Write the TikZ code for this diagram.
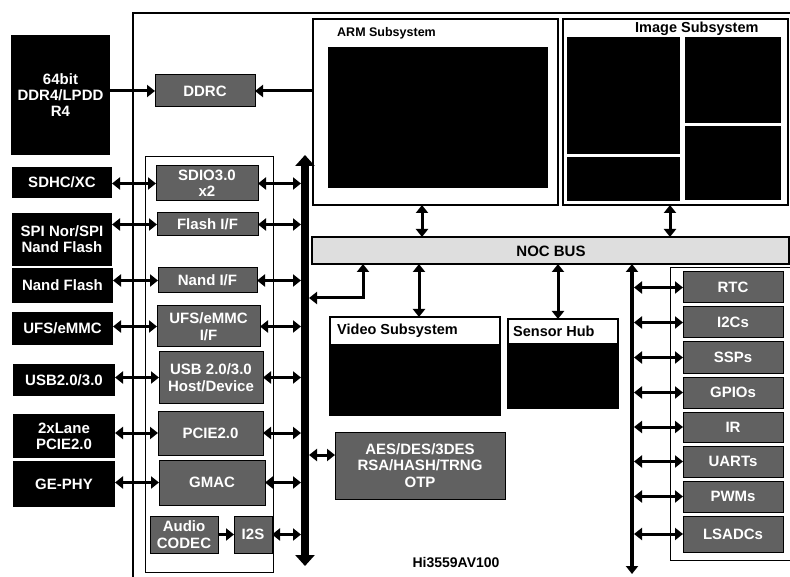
\documentclass[tikz,border=0pt]{standalone}
\usepackage{fontspec}
\setmainfont{Liberation Sans}
\usetikzlibrary{arrows.meta,calc}
\begin{document}
\begin{tikzpicture}[x=1pt,y=-1pt,
  tp/.tip={Triangle[width=12pt,length=8pt]},
  btp/.tip={Triangle[width=19pt,length=11pt]},
  rtp/.tip={Triangle[width=12pt,length=8pt]},
  blk/.style={fill=black,text=white,inner sep=0pt,outer sep=0pt,anchor=north west,align=center,font=\bfseries\fontsize{15}{16}\selectfont},
  gbx/.style={fill=black!62,draw=black,line width=1pt,text=white,inner sep=0pt,outer sep=0pt,anchor=north west,align=center,font=\bfseries\fontsize{15}{16.5}\selectfont},
  sub/.style={draw=black,line width=1.5pt,inner sep=0pt,outer sep=0pt,anchor=north west},
  ttl/.style={anchor=west,inner sep=0pt,font=\bfseries\fontsize{14.5}{16}\selectfont},
  arr/.style={line width=3pt,tp-tp},
  arrR/.style={line width=3pt,-tp},
  lbus/.style={line width=8pt,btp-btp},
  rbus/.style={line width=4pt,rtp-rtp}]
\useasboundingbox (0,0) rectangle (790,577);

% chip outline and group frames
\draw[line width=1.3pt] (133,577) -- (133,13) -- (790,13);
\draw[line width=1pt] (145,157) rectangle (273,572);
\draw[line width=1pt] (790,268) -- (670,268) -- (670,560) -- (790,560);

% external black boxes
\node[blk,minimum width=99pt,minimum height=120pt] (ddr) at (11,35) {64bit\\DDR4/LPDD\\R4};
\node[blk,minimum width=100pt,minimum height=31pt] (sdhc) at (12,167) {SDHC/XC};
\node[blk,minimum width=100pt,minimum height=53pt] (spi) at (12,213) {SPI Nor/SPI\\Nand Flash};
\node[blk,minimum width=101pt,minimum height=35pt] (nandf) at (12,268) {Nand Flash};
\node[blk,minimum width=101pt,minimum height=33pt] (ufsb) at (12,312) {UFS/eMMC};
\node[blk,minimum width=102pt,minimum height=32pt] (usbb) at (13,364) {USB2.0/3.0};
\node[blk,minimum width=102pt,minimum height=44pt] (pcieb) at (13,414) {2xLane\\PCIE2.0};
\node[blk,minimum width=102pt,minimum height=46pt] (geb) at (13,461) {GE-PHY};

% left controller boxes
\node[gbx,minimum width=100pt,minimum height=32pt] (ddrc) at (155,75) {DDRC};
\node[gbx,minimum width=102pt,minimum height=35pt] (sdio) at (156,166) {SDIO3.0\\x2};
\node[gbx,minimum width=101pt,minimum height=23pt] (flash) at (157,213) {Flash I/F};
\node[gbx,minimum width=99pt,minimum height=25pt] (nand) at (158,268) {Nand I/F};
\node[gbx,minimum width=103pt,minimum height=41pt] (ufs) at (157,306) {UFS/eMMC\\I/F};
\node[gbx,minimum width=104pt,minimum height=51pt] (usb) at (159,352) {USB 2.0/3.0\\Host/Device};
\node[gbx,minimum width=105pt,minimum height=44pt] (pcie) at (158,411) {PCIE2.0};
\node[gbx,minimum width=106pt,minimum height=45pt] (gmac) at (159,460) {GMAC};
\node[gbx,minimum width=68pt,minimum height=37pt] (audio) at (150,516) {Audio\\CODEC};
\node[gbx,minimum width=38pt,minimum height=37pt] (i2s) at (234,516) {I2S};

% ARM subsystem
\node[sub,minimum width=245pt,minimum height=186pt] (arm) at (313,19) {};
\node[ttl,font=\bfseries\fontsize{12.5}{14}\selectfont] (armt) at (337,33) {ARM Subsystem};
\fill (328,47) rectangle (548,188);

% Image subsystem
\node[sub,minimum width=225pt,minimum height=186pt] (img) at (563,19) {};
\node[ttl] (imgt) at (635,29) {Image Subsystem};
\fill (567,37) rectangle (680,154);
\fill (567,157) rectangle (680,201);
\fill (685,37) rectangle (781,123);
\fill (685,126) rectangle (781,200);

% NOC bus
\node[draw=black,line width=1.5pt,fill=black!13,inner sep=0pt,outer sep=0pt,anchor=north west,minimum width=477pt,minimum height=27pt] (noc) at (312,237) {};
\node[font=\bfseries\fontsize{15}{16}\selectfont,inner sep=0pt] (noct) at (551,251) {NOC BUS};

% Video subsystem and sensor hub
\node[sub,minimum width=170pt,minimum height=98pt] (vid) at (330,317) {};
\fill (330,344) rectangle (500,415);
\node[ttl] (vidt) at (337,331) {Video Subsystem};
\node[sub,minimum width=110pt,minimum height=89pt] (sen) at (508,319) {};
\fill (508,343) rectangle (618,408);
\node[ttl] (sent) at (513,331) {Sensor Hub};

% security box
\node[gbx,minimum width=170pt,minimum height=67pt] (aes) at (335,432) {AES/DES/3DES\\RSA/HASH/TRNG\\OTP};

% chip name
\node[font=\bfseries\fontsize{14}{16}\selectfont,inner sep=0pt] (chip) at (456,563) {Hi3559AV100};

% right peripheral boxes
\node[gbx,minimum width=100pt,minimum height=31pt] (rtc) at (683,272) {RTC};
\node[gbx,minimum width=100pt,minimum height=31pt] (i2c) at (683,307) {I2Cs};
\node[gbx,minimum width=100pt,minimum height=31pt] (ssp) at (683,342) {SSPs};
\node[gbx,minimum width=100pt,minimum height=31pt] (gpio) at (683,377) {GPIOs};
\node[gbx,minimum width=100pt,minimum height=30pt] (ir) at (683,412) {IR};
\node[gbx,minimum width=100pt,minimum height=31pt] (uart) at (683,446) {UARTs};
\node[gbx,minimum width=100pt,minimum height=31pt] (pwm) at (683,481) {PWMs};
\node[gbx,minimum width=100pt,minimum height=36pt] (lsadc) at (683,516) {LSADCs};

% buses
\coordinate (lbt) at (305,155);
\coordinate (lbb) at (305,566);
\draw[lbus] (lbt) -- (lbb);
\coordinate (rbx) at (632,574);
\draw[rbus] (noc.south -| rbx) -- (rbx);

% DDR connections
\draw[arrR] (ddr.east |- ddrc.west) -- (ddrc.west);
\draw[arrR] (arm.west |- ddrc.east) -- (ddrc.east);

% external to controllers
\draw[arr] (sdhc.east |- sdio.west) -- (sdio.west);
\draw[arr] (spi.east |- flash.west) -- (flash.west);
\draw[arr] (nandf.east |- nand.west) -- (nand.west);
\draw[arr] (ufsb.east |- ufs.west) -- (ufs.west);
\draw[arr] (usbb.east |- usb.west) -- (usb.west);
\draw[arr] (pcieb.east |- pcie.west) -- (pcie.west);
\draw[arr] (geb.east |- gmac.west) -- (gmac.west);
\draw[arrR] (audio.east) -- (i2s.west);

% controllers to left bus
\foreach \n in {sdio,flash,nand,ufs,usb,pcie,gmac,i2s}
  \draw[arr,shorten >=4pt] (\n.east) -- (\n.east -| lbt);

% subsystems to NOC
\coordinate (xa) at (422,0);
\coordinate (xi) at (670,0);
\coordinate (xv) at (419,0);
\coordinate (xs) at (558,0);
\coordinate (cb) at (363,298);
\coordinate (ya) at (0,455);
\draw[arr] (arm.south -| xa) -- (noc.north -| xa);
\draw[arr] (img.south -| xi) -- (noc.north -| xi);
\draw[arr] (noc.south -| xv) -- (vid.north -| xv);
\draw[arr] (noc.south -| xs) -- (sen.north -| xs);
\draw[arr,shorten >=4pt] (noc.south -| cb) |- (cb -| lbt);
\draw[arr,shorten <=4pt] (lbt |- ya) -- (aes.west |- ya);

% right bus to peripherals
\foreach \n in {rtc,i2c,ssp,gpio,ir,uart,pwm,lsadc}
  \draw[arr,shorten <=2pt] (\n.west -| rbx) -- (\n.west);
\end{tikzpicture}
\end{document}
